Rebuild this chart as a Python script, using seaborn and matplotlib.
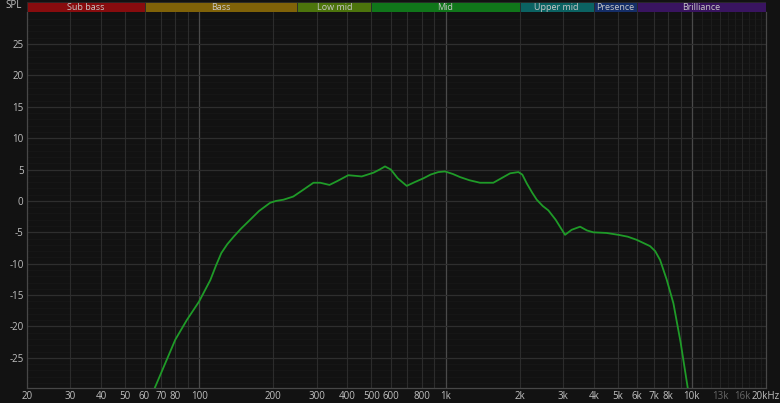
import numpy as np
import pandas as pd
import seaborn as sns
import matplotlib.pyplot as plt
from matplotlib.ticker import FixedLocator, NullFormatter

# Frequency response
freq = [66, 80, 89, 100, 105, 111, 117, 123, 130, 138, 148, 161, 175, 194, 205, 220,
        241, 265, 291, 310, 338, 365, 403, 430, 457, 510, 540, 568, 600, 640, 696, 750,
        813, 870, 935, 995, 1070, 1146, 1250, 1380, 1564, 1700, 1829, 1976, 2050, 2137,
        2250, 2346, 2480, 2615, 2800, 3057, 3250, 3518, 3750, 3984, 4500, 5033, 5500,
        5975, 6767, 7100, 7430, 7900, 8416, 9000, 9625]
spl = [-29.8, -22.1, -19.0, -16.0, -14.4, -12.6, -10.3, -8.3, -6.9, -5.7, -4.4, -3.0,
       -1.6, -0.3, 0.0, 0.2, 0.7, 1.8, 2.9, 2.9, 2.55, 3.2, 4.1, 4.0, 3.9, 4.5, 5.0, 5.5,
       5.0, 3.6, 2.4, 3.0, 3.6, 4.2, 4.6, 4.7, 4.3, 3.8, 3.3, 2.9, 2.9, 3.7, 4.4, 4.6,
       4.2, 2.8, 1.3, 0.2, -0.8, -1.5, -3.0, -5.4, -4.6, -4.1, -4.7, -5.0, -5.1, -5.4,
       -5.7, -6.2, -7.2, -8.0, -9.4, -12.5, -16.3, -22.5, -29.8]

band_names = ['Sub bass', 'Bass', 'Low mid', 'Mid', 'Upper mid', 'Presence', 'Brilliance']
band_edges = [20, 60, 250, 500, 2000, 4000, 6000, 20000]
band_colors = ['#880c0e', '#806208', '#4c740c', '#10761a', '#0b6262', '#152e68', '#391460']

tick_vals = [20, 30, 40, 50, 60, 70, 80, 100, 200, 300, 400, 500, 600, 800,
             1000, 2000, 3000, 4000, 5000, 6000, 7000, 8000, 10000, 13000, 16000, 20000]
tick_text = ['20', '30', '40', '50', '60', '70', '80', '100', '200', '300', '400', '500',
             '600', '800', '1k', '2k', '3k', '4k', '5k', '6k', '7k', '8k', '10k', '13k',
             '16k', '20kHz']
y_ticks = [25, 20, 15, 10, 5, 0, -5, -10, -15, -20, -25]

sns.set_theme(style='dark')
plt.rcParams['font.family'] = ['Open Sans', 'DejaVu Sans']
bg = '#121212'

fig = plt.figure(figsize=(7.8, 4.03), dpi=100, facecolor=bg)
W, H = 780, 403
ax = fig.add_axes([27 / W, (H - 388) / H, (766 - 27) / W, (388 - 12) / H])
hx = fig.add_axes([27 / W, (H - 12) / H, (766 - 27) / W, 10 / H])
ax.set_facecolor(bg)

ax.set_xscale('log')
ax.set_xlim(20, 20000)
ax.set_ylim(-29.8, 30.1)

# grid lines
for f in [20, 30, 40, 50, 60, 70, 80, 90] + [f * 100 for f in range(2, 10)] + [f * 1000 for f in range(2, 10)]:
    ax.axvline(f, color='#2c2c2c', lw=0.8, zorder=1)
for f in [11000, 12000, 14000, 15000, 17000, 18000, 19000]:
    ax.axvline(f, color='#1e1e1e', lw=0.6, zorder=1)
for f in [13000, 16000]:
    ax.axvline(f, color='#262626', lw=0.7, zorder=1)
for f in [100, 1000, 10000]:
    ax.axvline(f, color='#4a4a4a', lw=0.9, zorder=1)
for v in range(-29, 30):
    if v % 5:
        ax.axhline(v, color='#171717', lw=0.6, zorder=0.5)
for v in range(-25, 30, 5):
    ax.axhline(v, color='#2e2e2e', lw=0.9, zorder=1)

df = pd.DataFrame({'freq': freq, 'spl': spl})
sns.lineplot(data=df, x='freq', y='spl', ax=ax, color='#1f9b28', lw=1.3, zorder=3)

ax.xaxis.set_major_locator(FixedLocator(tick_vals))
ax.set_xticklabels(tick_text)
ax.xaxis.set_minor_formatter(NullFormatter())
ax.set_yticks(y_ticks)
ax.set_yticklabels([str(v) for v in y_ticks])
ax.tick_params(axis='both', length=0, labelsize=7, colors='#c0c0c0', pad=2.5)
for lbl, t in zip(ax.get_xticklabels(), tick_text):
    if t in ('13k', '16k'):
        lbl.set_color('#666666')
ax.set_xlabel('')
ax.set_ylabel('')
ax.spines['top'].set_visible(False)
for s in ['left', 'right', 'bottom']:
    ax.spines[s].set_color('#474747')
    ax.spines[s].set_linewidth(0.9)

# header with frequency bands
hx.set_xscale('log')
hx.set_xlim(20, 20000)
hx.set_ylim(0, 1)
hx.axis('off')
for name, lo, hi, c in zip(band_names, band_edges[:-1], band_edges[1:], band_colors):
    hx.axvspan(lo, hi, color=c, ec='#2a2a2a', lw=0.6)
    hx.text(np.sqrt(lo * hi), 0.4, name, ha='center', va='center',
            fontsize=6.5, color='#c8c8c8')

fig.text(22 / W, (H - 6) / H, 'SPL', ha='right', va='center', fontsize=7, color='#c0c0c0')

fig.savefig('out.png', dpi=100, facecolor=bg)
